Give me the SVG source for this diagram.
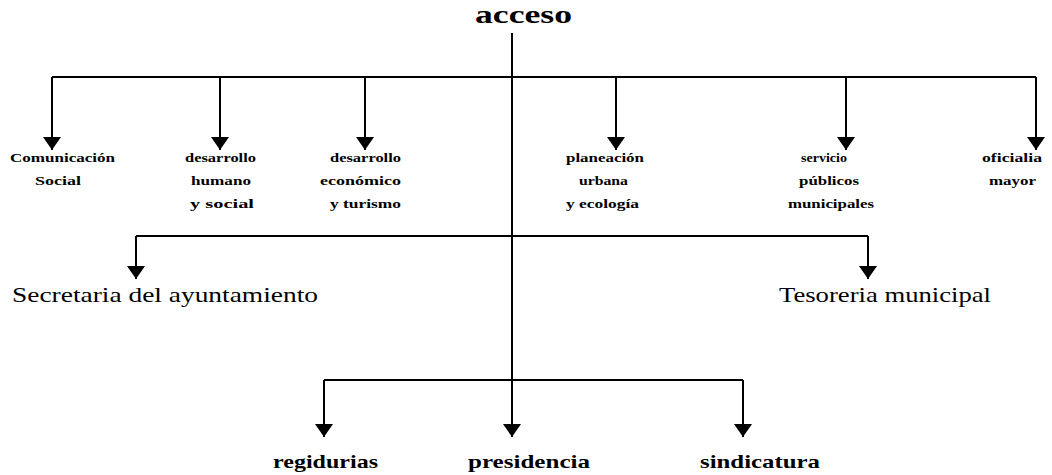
<svg xmlns="http://www.w3.org/2000/svg" width="1052" height="475" viewBox="0 0 1052 475">
<style>
.sm{font-family:"Liberation Serif",serif;font-weight:bold;font-size:13px;fill:#000;text-anchor:middle}
.md{font-family:"Liberation Serif",serif;font-size:22px;fill:#000}
.bt{font-family:"Liberation Serif",serif;font-weight:bold;font-size:19px;fill:#000}
.tp{font-family:"Liberation Serif",serif;font-weight:bold;font-size:25px;fill:#000}
.c{fill:none;stroke:#000;stroke-width:2}
</style>
<defs>
<marker id="ah" viewBox="0 0 13 18" refX="13" refY="9" markerWidth="13" markerHeight="18" markerUnits="userSpaceOnUse" orient="auto">
<path d="M0,0 L13,9 L0,18 z" fill="#000"/>
</marker>
</defs>
<rect width="1052" height="475" fill="#fff"/>
<g id="connectors">
<path class="c" d="M512,33 V437" marker-end="url(#ah)"/>
<path class="c" d="M52,77 H1036"/>
<path class="c" d="M52,77 V150" marker-end="url(#ah)"/>
<path class="c" d="M220,77 V150" marker-end="url(#ah)"/>
<path class="c" d="M365,77 V150" marker-end="url(#ah)"/>
<path class="c" d="M616,77 V150" marker-end="url(#ah)"/>
<path class="c" d="M846,77 V150" marker-end="url(#ah)"/>
<path class="c" d="M1036,77 V150" marker-end="url(#ah)"/>
<path class="c" d="M136,236 H868"/>
<path class="c" d="M136,236 V279" marker-end="url(#ah)"/>
<path class="c" d="M868,236 V279" marker-end="url(#ah)"/>
<path class="c" d="M324,380 H743"/>
<path class="c" d="M324,380 V437" marker-end="url(#ah)"/>
<path class="c" d="M743,380 V437" marker-end="url(#ah)"/>
</g>
<g id="acceso"><text class="tp" x="475" y="23" textLength="97" lengthAdjust="spacingAndGlyphs">acceso</text></g>
<g id="comunicacion">
<text class="sm" x="62.5" y="162" textLength="105" lengthAdjust="spacingAndGlyphs">Comunicación</text>
<text class="sm" x="58" y="185" textLength="46" lengthAdjust="spacingAndGlyphs">Social</text>
</g>
<g id="desarrollo-humano">
<text class="sm" x="220.5" y="162" textLength="71" lengthAdjust="spacingAndGlyphs">desarrollo</text>
<text class="sm" x="221" y="185" textLength="60" lengthAdjust="spacingAndGlyphs">humano</text>
<text class="sm" x="222" y="208" textLength="64" lengthAdjust="spacingAndGlyphs">y social</text>
</g>
<g id="desarrollo-economico">
<text class="sm" x="365.5" y="162" textLength="71" lengthAdjust="spacingAndGlyphs">desarrollo</text>
<text class="sm" x="360.5" y="185" textLength="81" lengthAdjust="spacingAndGlyphs">económico</text>
<text class="sm" x="365.5" y="208" textLength="71" lengthAdjust="spacingAndGlyphs">y turismo</text>
</g>
<g id="planeacion">
<text class="sm" x="605" y="162" textLength="78" lengthAdjust="spacingAndGlyphs">planeación</text>
<text class="sm" x="603.5" y="185" textLength="49" lengthAdjust="spacingAndGlyphs">urbana</text>
<text class="sm" x="602.5" y="208" textLength="73" lengthAdjust="spacingAndGlyphs">y ecología</text>
</g>
<g id="servicio">
<text class="sm" x="824" y="162" textLength="46" lengthAdjust="spacingAndGlyphs">servicio</text>
<text class="sm" x="829" y="185" textLength="60" lengthAdjust="spacingAndGlyphs">públicos</text>
<text class="sm" x="831" y="208" textLength="86" lengthAdjust="spacingAndGlyphs">municipales</text>
</g>
<g id="oficialia">
<text class="sm" x="1012" y="162" textLength="60" lengthAdjust="spacingAndGlyphs">oficialia</text>
<text class="sm" x="1012.5" y="185" textLength="47" lengthAdjust="spacingAndGlyphs">mayor</text>
</g>
<g id="secretaria"><text class="md" x="12" y="302" textLength="306" lengthAdjust="spacingAndGlyphs">Secretaria del ayuntamiento</text></g>
<g id="tesoreria"><text class="md" x="779" y="302" textLength="212" lengthAdjust="spacingAndGlyphs">Tesoreria municipal</text></g>
<g id="regidurias"><text class="bt" x="273" y="468" textLength="105" lengthAdjust="spacingAndGlyphs">regidurias</text></g>
<g id="presidencia"><text class="bt" x="468" y="468" textLength="122" lengthAdjust="spacingAndGlyphs">presidencia</text></g>
<g id="sindicatura"><text class="bt" x="700" y="468" textLength="120" lengthAdjust="spacingAndGlyphs">sindicatura</text></g>
</svg>
